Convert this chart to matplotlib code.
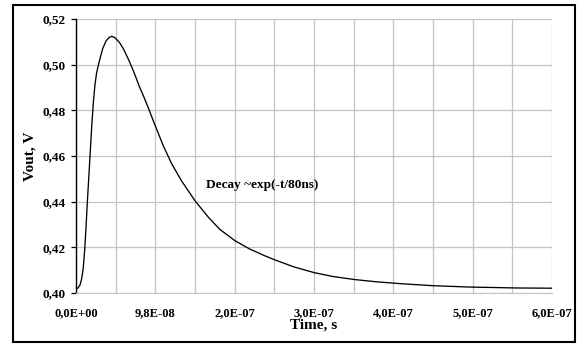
import matplotlib
matplotlib.use('Agg')
import matplotlib.pyplot as plt
from matplotlib.patches import Rectangle

# Time in ns
time_ns = [0, 2.5, 5, 7, 9, 11, 12.5, 14, 16, 18, 20, 22, 24, 26, 29.4, 33.6,
           38, 42, 45.4, 49, 54.6, 60, 67.2, 73, 79.8, 86, 91, 99.6, 110, 120.6,
           133.2, 150, 166.8, 181.5, 200.4, 219.3, 238, 250, 274, 300.4, 324.3,
           350.8, 379, 408.4, 450, 496, 556, 600]
vout = [0.4018, 0.4022, 0.4035, 0.4060, 0.4105, 0.4190, 0.4280, 0.4380,
        0.4500, 0.4620, 0.4740, 0.4840, 0.4915, 0.4965, 0.5015, 0.5070,
        0.5105, 0.5120, 0.5124, 0.5118, 0.5098, 0.5068, 0.5015, 0.4967,
        0.4905, 0.4855, 0.4812, 0.4735, 0.4645, 0.4566, 0.4490, 0.4404,
        0.4332, 0.4278, 0.4229, 0.4192, 0.4163, 0.4146, 0.4115, 0.4089,
        0.4072, 0.4059, 0.4049, 0.4041, 0.4032, 0.4026, 0.4022, 0.4021]

x_ticks = [0, 1e-7, 2e-7, 3e-7, 4e-7, 5e-7, 6e-7]
x_labels = ['0,0E+00', '9,8E-08', '2,0E-07', '3,0E-07', '4,0E-07', '5,0E-07', '6,0E-07']
y_ticks = [0.40, 0.42, 0.44, 0.46, 0.48, 0.50, 0.52]
y_labels = ['0,40', '0,42', '0,44', '0,46', '0,48', '0,50', '0,52']

plt.rcParams['font.family'] = ['Liberation Serif', 'DejaVu Serif']
plt.rcParams['font.weight'] = 'bold'

fig = plt.figure(figsize=(5.77, 3.47), dpi=100)
ax = fig.add_axes([76 / 577, 54 / 347, 476 / 577, 274 / 347])

t = [v * 1e-9 for v in time_ns]
ax.plot(t, vout, color='black', lw=0.95, solid_joinstyle='round')

ax.set_xlim(0, 6e-7)
ax.set_ylim(0.40, 0.52)
ax.set_xticks(x_ticks)
ax.set_xticklabels(x_labels, fontsize=9, fontweight='bold')
ax.set_xticks([0.5e-7 + i * 1e-7 for i in range(6)], minor=True)
ax.set_yticks(y_ticks)
ax.set_yticklabels(y_labels, fontsize=9.5, fontweight='bold')

ax.grid(True, which='both', color='#c4c4c4', lw=0.9)
ax.tick_params(axis='x', which='both', length=0, pad=10)
ax.tick_params(axis='y', length=3.5, width=0.9, pad=4, color='black')

for s in ['top', 'right']:
    ax.spines[s].set_visible(False)
ax.spines['bottom'].set_color('#c4c4c4')
ax.spines['left'].set_color('black')
ax.spines['left'].set_linewidth(1.0)
ax.set_axisbelow(True)

ax.set_xlabel('Time, s', fontsize=11, fontweight='bold', labelpad=0)
ax.set_ylabel('Vout, V', fontsize=11, fontweight='bold', labelpad=4)

ax.text(1.64e-7, 0.4473, 'Decay ~exp(-t/80ns)', fontsize=9.5, fontweight='bold',
        va='center', ha='left')

fig.patches.append(Rectangle((13 / 577, 5 / 347), 562 / 577, 337 / 347,
                             transform=fig.transFigure, fill=False,
                             edgecolor='black', lw=1.5))

fig.savefig('out.png', dpi=100)
